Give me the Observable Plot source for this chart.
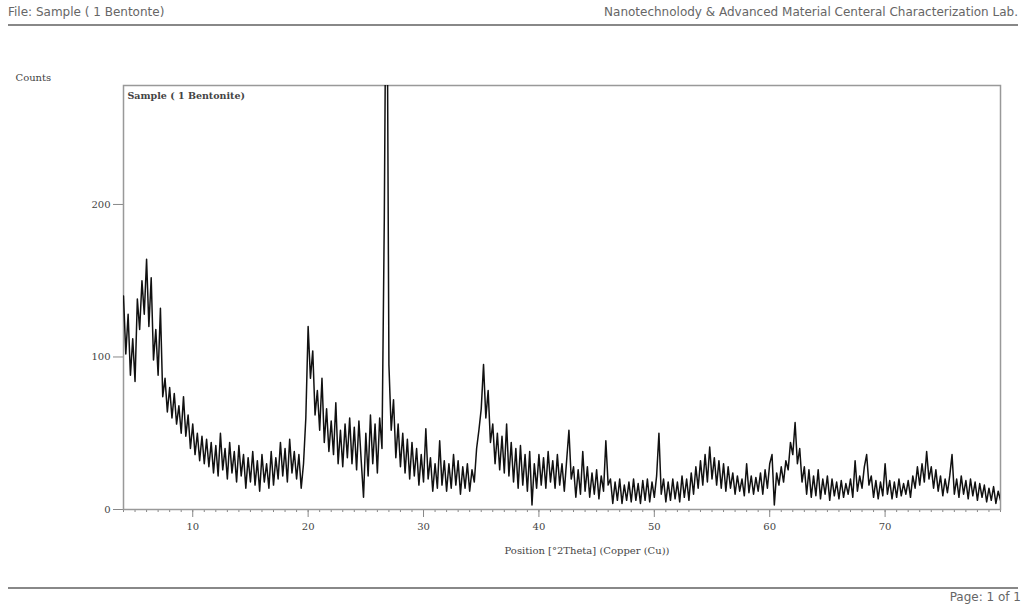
<!DOCTYPE html>
<html>
<head>
<meta charset="utf-8">
<script src="https://cdn.jsdelivr.net/npm/d3@7"></script>
<script src="https://cdn.jsdelivr.net/npm/@observablehq/plot@0.6"></script>
<style>
  html, body { margin: 0; padding: 0; background: #fff; width: 1024px; height: 604px; overflow: hidden; }
  #wrap { position: relative; width: 1024px; height: 604px; }
  #chart { position: absolute; left: 0; top: 0; }
  .hdr { position: absolute; font-family: "DejaVu Sans", sans-serif; font-size: 12px; color: #666; white-space: nowrap; }
  .rule { position: absolute; height: 2px; background: #888; }
</style>
</head>
<body>
<div id="wrap">
  <div id="chart"></div>
  <div class="hdr" style="left:8px; top:5px;">File: Sample ( 1 Bentonte)</div>
  <div class="hdr" style="right:6px; top:5px;">Nanotechnolody &amp; Advanced Material Centeral Characterization Lab.</div>
  <div class="rule" style="left:8px; width:1010px; top:24px;"></div>
  <div class="rule" style="left:8px; width:1010px; top:587px;"></div>
  <div class="hdr" style="right:3px; top:590px;">Page: 1 of 1</div>
</div>
<script>
// Measurement grid (°2Theta)
const startAngle = 4.0;
const stepAngle = 0.2;

const counts = [
  140,102,128,88,112,   84,138,118,150,128,   164,120,152,98,118,   88,132,74,86,64,
  80,60,76,56,68,       50,74,48,62,40,       56,36,50,32,48,       30,46,28,44,24,
  42,22,50,26,40,       20,44,24,38,18,       42,22,36,14,34,       18,38,16,32,12,
  36,18,30,14,38,       16,34,20,44,22,       40,18,46,24,38,       20,36,14,30,60,
  120,86,104,62,78,     52,86,44,66,38,       58,36,70,30,52,       28,56,34,60,30,
  54,26,58,32,8,        50,22,62,30,56,       24,60,40,190,420,     95,52,72,34,56,
  28,50,24,46,20,       44,22,40,16,36,       18,53,20,34,12,       30,14,45,16,32,
  12,30,14,36,16,       32,10,28,14,30,       12,26,18,40,52,       66,95,60,78,44,
  56,30,50,26,48,       24,56,22,44,18,       40,14,42,16,36,       12,38,3,30,14,
  36,16,34,14,38,       18,32,14,36,16,       30,12,32,52,20,       28,8,26,10,38,
  12,28,8,24,10,        26,7,22,12,45,        16,20,4,18,6,         20,4,16,6,18,
  5,20,6,17,4,          19,6,20,5,18,         8,22,50,10,20,        5,18,6,20,7,
  18,5,22,8,20,         6,24,10,28,14,        32,16,36,18,41,       20,34,16,32,14,
  30,12,28,14,24,       10,22,12,20,9,        30,11,22,10,21,       12,24,10,26,14,
  30,36,3,24,16,        28,18,32,26,44,       36,57,30,40,18,       28,10,26,8,22,
  9,26,7,20,10,         22,6,20,9,18,         7,19,8,17,10,         20,8,32,12,22,
  14,28,36,16,22,       8,19,7,18,9,          30,10,19,7,18,        8,20,9,17,10,
  19,8,22,14,28,        16,30,18,38,20,       28,14,26,12,22,       9,20,11,22,36,
  10,20,8,22,10,        19,7,20,9,18,         6,17,8,16,5,          14,6,15,4,12,
  6
];

const xTicks = [10, 20, 30, 40, 50, 60, 70];
const yTicks = [0, 100, 200];
const xMinorTicks = d3.range(4, 81, 1);

const sampleLabel = "Sample ( 1 Bentonite)";
const xTitle = "Position [°2Theta] (Copper (Cu))";
const yTitle = "Counts";

const data = counts.map((c, i) => ({angle: +(startAngle + i * stepAngle).toFixed(2), count: c}));

const serif = "'DejaVu Serif', serif";

const chart = Plot.plot({
  width: 1024,
  height: 604,
  marginTop: 85,
  marginLeft: 123,
  marginRight: 24,
  marginBottom: 95,
  style: {fontFamily: serif, fontSize: "10px", color: "#444", background: "transparent"},
  x: {domain: [4, 80]},
  y: {domain: [0, 278]},
  marks: [
    Plot.axisX({ticks: xMinorTicks, tickSize: 3, tickFormat: () => "", stroke: "#888", label: null}),
    Plot.axisX({ticks: xTicks, tickSize: 8, tickPadding: 5, tickFormat: d3.format("d"), stroke: "#888", fill: "#444", label: null}),
    Plot.axisY({ticks: yTicks, tickSize: 10, tickPadding: 3, tickFormat: d3.format("d"), stroke: "#888", fill: "#444", label: null}),
    Plot.frame({stroke: "#999", strokeWidth: 1.5}),
    Plot.line(data, {x: "angle", y: "count", stroke: "#111", strokeWidth: 1.5, clip: true}),
    Plot.text([sampleLabel], {frameAnchor: "top-left", dx: 4, dy: 7, fontSize: 9.5, fontWeight: "bold", fill: "#444", fontFamily: serif}),
    Plot.text([xTitle], {frameAnchor: "bottom", dx: 25, dy: 44, fontSize: 10, fill: "#444", fontFamily: serif}),
    Plot.text([yTitle], {frameAnchor: "top-left", dx: -108, dy: -12, textAnchor: "start", fontSize: 10, fill: "#444", fontFamily: serif})
  ]
});
document.getElementById("chart").appendChild(chart);
</script>
</body>
</html>
